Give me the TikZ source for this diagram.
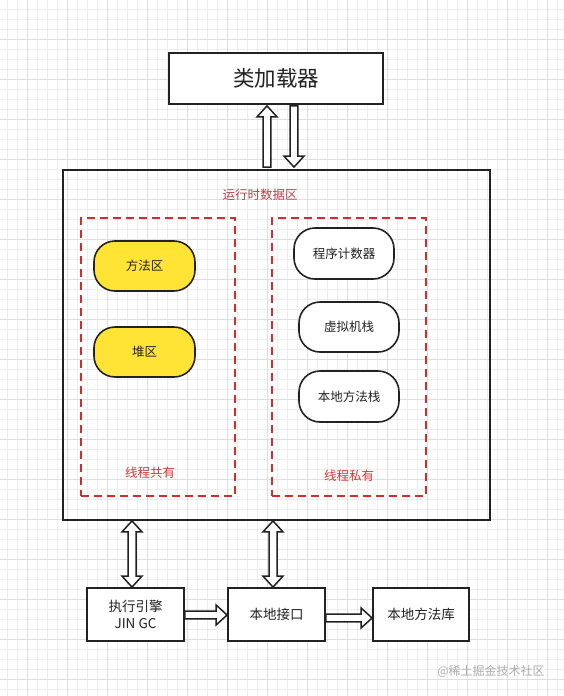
\documentclass[tikz,border=0pt]{standalone}
\usepackage{fontspec}
\setmainfont{Noto Sans CJK SC}
\usetikzlibrary{calc}
\definecolor{dashred}{HTML}{D42B2B}
\definecolor{titlered}{HTML}{B8404A}
\definecolor{labred}{HTML}{D83535}
\definecolor{ylw}{HTML}{FFE436}
\definecolor{ink}{HTML}{222222}
\newcommand\hollowone[2]{%
 \path ($(#2)!11pt!(#1)$) coordinate (hh);
 \draw[harr] ($(#1)!3.8pt!90:(#2)$) -- ($(hh)!3.8pt!90:(#2)$) -- ($(hh)!10pt!90:(#2)$) -- (#2)
  -- ($(hh)!10pt!-90:(#2)$) -- ($(hh)!3.8pt!-90:(#2)$) -- ($(#1)!3.8pt!-90:(#2)$) -- cycle;}
\newcommand\hollowtwo[2]{%
 \path ($(#1)!11pt!(#2)$) coordinate (ha) ($(#2)!11pt!(#1)$) coordinate (hb);
 \draw[harr] (#1) -- ($(ha)!10pt!90:(#2)$) -- ($(ha)!4pt!90:(#2)$) -- ($(hb)!4pt!-90:(#1)$)
  -- ($(hb)!10pt!-90:(#1)$) -- (#2) -- ($(hb)!10pt!90:(#1)$) -- ($(hb)!4pt!90:(#1)$)
  -- ($(ha)!4pt!-90:(#2)$) -- ($(ha)!10pt!-90:(#2)$) -- cycle;}
\begin{document}
\begin{tikzpicture}[x=1pt,y=-1pt,
  harr/.style={draw=ink,line width=1.5pt,fill=white,line join=miter},
  sqbox/.style={draw=ink,line width=1.8pt,fill=white,inner sep=0pt,align=center,
    font=\fontsize{13.5}{17}\selectfont,text=ink},
  pill/.style={draw=ink,line width=1.6pt,rounded corners=21pt,inner sep=0pt,
    minimum width=100pt,minimum height=50pt,font=\fontsize{12.5}{15}\selectfont,text=ink},
  yelpill/.style={pill,fill=ylw},
  whtpill/.style={pill,fill=white},
  dashzone/.style={draw=dashred,line width=1.8pt,dash pattern=on 8pt off 5pt,
    minimum width=154pt,minimum height=278pt,inner sep=0pt},
  zonelabel/.style={text=labred,font=\fontsize{12.5}{15}\selectfont}]
\useasboundingbox (0,0) rectangle (563,696);
\fill[white] (0,0) rectangle (563,696);
\begin{scope}[shift={(-13,-1)}]
 \draw[black!7,line width=0.5pt,step=10pt] (0,720) grid (600,0);
 \draw[black!13,line width=0.6pt,step=40pt] (0,720) grid (600,0);
\end{scope}
% main boxes
\node[sqbox,minimum width=214pt,minimum height=51pt,font=\fontsize{21.5}{25}\selectfont] (cl) at (276,78.5) {类加载器};
\node[draw=ink,line width=1.8pt,fill=none,minimum width=427pt,minimum height=350pt,inner sep=0pt] (rt) at (276.5,345) {};
\node[text=titlered,font=\fontsize{12.5}{15}\selectfont] (rtl) at (260,195) {运行时数据区};
\node[dashzone] (ls) at (158,357) {};
\node[dashzone] (rs) at (349,357) {};
\node[yelpill,minimum width=101pt] (ma) at (144.5,266) {方法区};
\node[yelpill,minimum width=101pt] (hp) at (144.5,352) {堆区};
\node[whtpill,minimum height=51pt] (pc) at (344,253.5) {程序计数器};
\node[whtpill] (vm) at (349,327) {虚拟机栈};
\node[whtpill,minimum height=51pt] (nm) at (349,396.5) {本地方法栈};
\node[zonelabel] (l1) at (150,473) {线程共有};
\node[zonelabel] (l2) at (349,476) {线程私有};
% bottom boxes
\node[sqbox,minimum width=97pt,minimum height=53pt] (ee) at (135.5,614.5) {执行引擎\\JIN GC};
\node[sqbox,minimum width=97pt,minimum height=53pt] (ni) at (276.5,614.5) {本地接口};
\node[sqbox,minimum width=96pt,minimum height=53pt] (nl) at (421,614.5) {本地方法库};
\node[text=black!32,font=\fontsize{12}{14}\selectfont] (wm) at (491,671) {@稀土掘金技术社区};
% arrows
\coordinate (xa) at (267,0);
\coordinate (xb) at (294,0);
\coordinate (xc) at (132,0);
\coordinate (xd) at (273,0);
\coordinate (up1) at ($(rt.north -| xa)+(0,-2)$);
\coordinate (up2) at ($(cl.south -| xa)+(0,1)$);
\coordinate (dn1) at ($(cl.south -| xb)+(0,1)$);
\coordinate (dn2) at ($(rt.north -| xb)+(0,-2)$);
\hollowone{up1}{up2}
\hollowone{dn1}{dn2}
\coordinate (v1a) at (rt.south -| xc);
\coordinate (v1b) at (ee.north -| xc);
\coordinate (v2a) at (rt.south -| xd);
\coordinate (v2b) at (ni.north -| xd);
\hollowtwo{v1a}{v1b}
\hollowtwo{v2a}{v2b}
\coordinate (h1a) at ($(ee.east)+(0,0.5)$);
\coordinate (h1b) at ($(ni.west)+(0,0.5)$);
\coordinate (h2a) at ($(ni.east)+(0,3.5)$);
\coordinate (h2b) at ($(nl.west)+(0,3.5)$);
\hollowone{h1a}{h1b}
\hollowone{h2a}{h2b}
\end{tikzpicture}
\end{document}
